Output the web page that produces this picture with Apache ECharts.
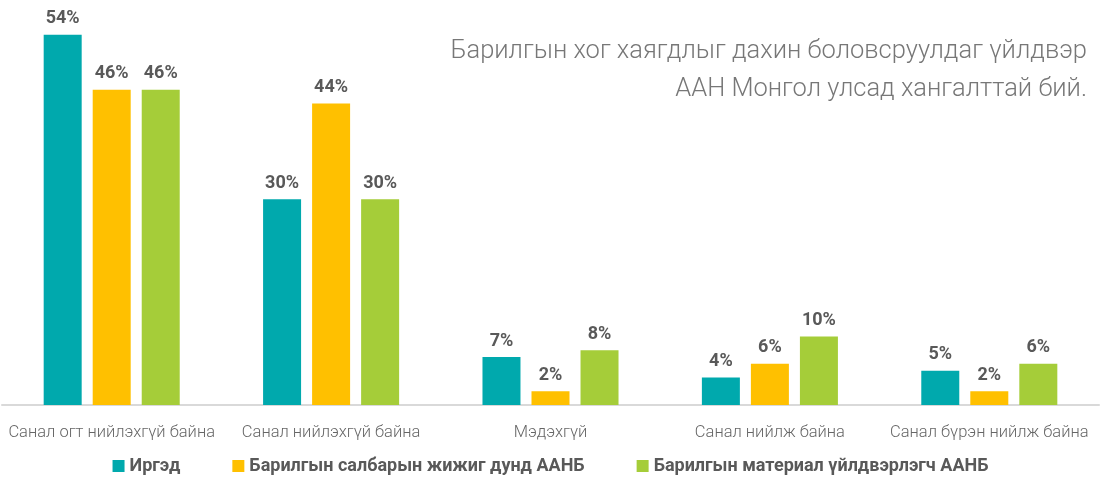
<!DOCTYPE html>
<html>
<head>
<meta charset="utf-8">
<script src="https://cdn.jsdelivr.net/npm/echarts@6/dist/echarts.min.js"></script>
<style>
  html, body { margin: 0; padding: 0; background: #fff; }
  #chart { width: 1101px; height: 490px; }
</style>
</head>
<body>
<div id="chart"></div>
<script>
const categories = ['Санал огт нийлэхгүй байна', 'Санал нийлэхгүй байна', 'Мэдэхгүй', 'Санал нийлж байна', 'Санал бүрэн нийлж байна']
const seriesNames = ['Иргэд', 'Барилгын салбарын жижиг дунд ААНБ', 'Барилгын материал үйлдвэрлэгч ААНБ']
const citizens = [54, 30, 7, 4, 5]
const smeConstruction = [46, 44, 2, 6, 2]
const materialProducers = [46, 30, 8, 10, 6]
const colors = ['#00A9AD', '#FFC000', '#A5CD39']
const titleLines = ['Барилгын хог хаягдлыг дахин боловсруулдаг үйлдвэр', 'ААН Монгол улсад хангалттай бий.']

const chart = echarts.init(document.getElementById('chart'))

const makeSeries = (name, data, color) => ({
  name,
  type: 'bar',
  data,
  barWidth: 38,
  barGap: '29%',
  itemStyle: { color },
  label: {
    show: true,
    position: 'top',
    distance: 7,
    color: '#595959',
    fontFamily: 'Roboto',
    fontWeight: 'bold',
    fontSize: 18,
    formatter: ({ value }) => `${value}%`,
  },
})

// title lines drawn separately so both stay right-aligned
const titleGraphics = titleLines.map((line, i) => ({
  type: 'text',
  right: 14,
  top: 39 + i * 38,
  style: {
    text: line,
    fill: '#777',
    fontFamily: 'Roboto',
    fontWeight: 300,
    fontSize: 25.5,
  },
}))

chart.setOption({
  animation: false,
  color: colors,
  graphic: titleGraphics,
  grid: {
    left: 2,
    right: 2,
    top: 28,
    bottom: 85,
  },
  xAxis: {
    type: 'category',
    data: categories,
    axisTick: { show: false },
    axisLine: { lineStyle: { color: '#d9d9d9', width: 2 } },
    axisLabel: {
      interval: 0,
      color: '#666',
      fontFamily: 'Roboto',
      fontWeight: 300,
      fontSize: 16.5,
      margin: 19,
    },
  },
  yAxis: {
    type: 'value',
    min: 0,
    max: 55,
    show: false,
    splitLine: { show: false },
  },
  legend: {
    bottom: 10,
    left: 'center',
    itemGap: 52,
    itemWidth: 12,
    itemHeight: 12,
    icon: 'rect',
    textStyle: {
      color: '#595959',
      fontFamily: 'Roboto',
      fontWeight: 'bold',
      fontSize: 18,
    },
    data: seriesNames,
  },
  series: [
    makeSeries(seriesNames[0], citizens, colors[0]),
    makeSeries(seriesNames[1], smeConstruction, colors[1]),
    makeSeries(seriesNames[2], materialProducers, colors[2]),
  ],
})
</script>
</body>
</html>
